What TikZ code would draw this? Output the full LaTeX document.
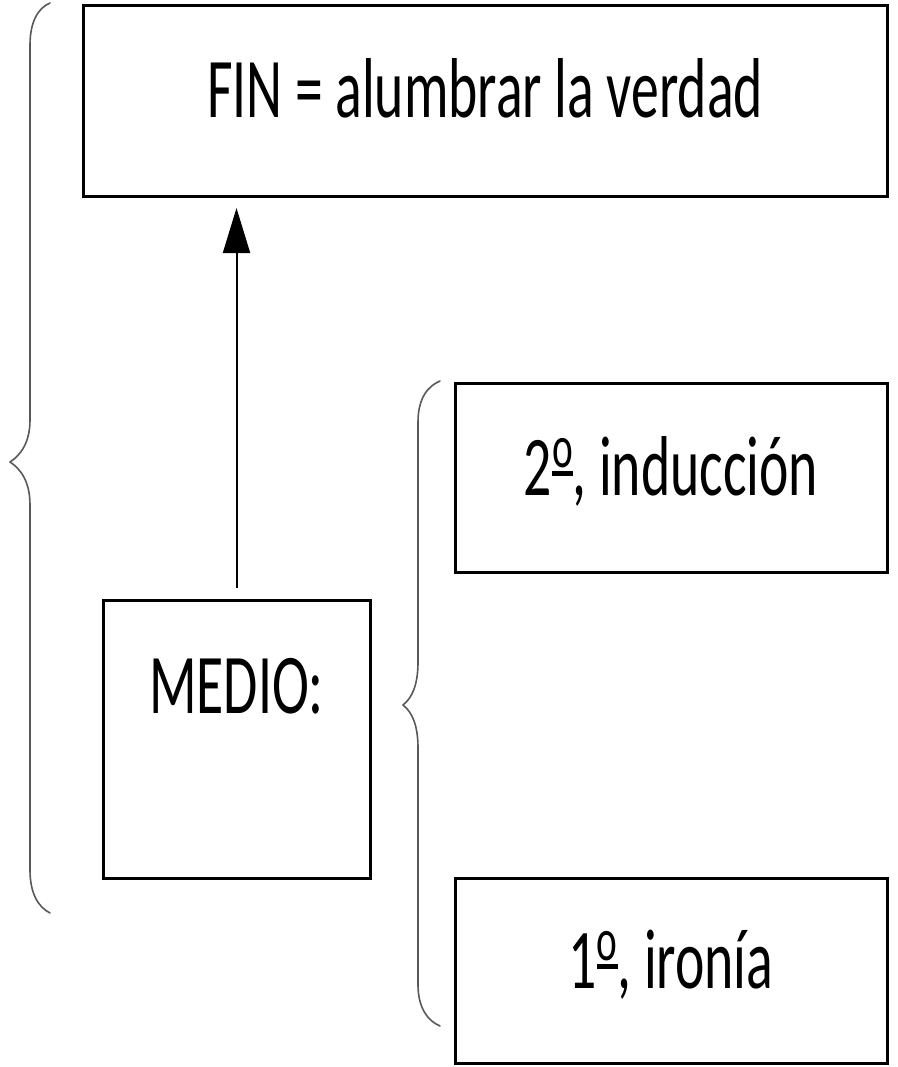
\documentclass[tikz,border=0pt]{standalone}
\usepackage{fontspec}
\setmainfont{Carlito}
\usetikzlibrary{arrows.meta}
\newcommand{\cond}[1]{\scalebox{0.655}[1]{#1}}
\newcommand{\ordm}{\raisebox{19pt}{\vbox{\hbox{\fontsize{60}{60}\selectfont o}\kern 3pt\hrule height 5pt}}}
\begin{document}
\begin{tikzpicture}[x=1pt,y=-1pt,
  box/.style={draw=black, line width=3pt, inner sep=0pt, outer sep=0pt,
    anchor=north west, align=center, font=\fontsize{85}{100}\selectfont},
  brace/.style={draw=black!65, line width=1.6pt, line cap=round, line join=round},
  conn/.style={draw=black, line width=2pt, -{Triangle[width=27pt,length=45pt]}}]
\useasboundingbox (0,0) rectangle (897,1067);
\node[box, minimum width=804pt, text height=112pt, text depth=79pt] (fin) at (83,6) {\cond{FIN = alumbrar la verdad}};
\node[box, minimum width=267pt, text height=113pt, text depth=165pt] (medio) at (103,600) {\cond{MEDIO:}};
\node[box, minimum width=432pt, text height=112pt, text depth=77pt] (ind) at (455,383) {\cond{2\ordm, inducción}};
\node[box, minimum width=432pt, text height=110pt, text depth=75pt] (iro) at (455,878) {\cond{1\ordm, ironía}};
\draw[conn, shorten <=12pt, shorten >=11pt] (medio.north) -- (medio.north |- fin.south);
% left brace
\draw[brace] (50,3) .. controls (38,8) and (30,22) .. (30,45) -- (30,420)
  .. controls (30,442) and (21,455) .. (10,462)
  .. controls (21,469) and (30,482) .. (30,505) -- (30,870)
  .. controls (30,893) and (38,907) .. (50,913);
% middle brace
\draw[brace] (440,381) .. controls (428,386) and (418,398) .. (418,422) -- (418,662)
  .. controls (418,685) and (412,698) .. (403,705)
  .. controls (412,712) and (418,725) .. (418,748) -- (418,985)
  .. controls (418,1008) and (428,1021) .. (440,1026);
\end{tikzpicture}
\end{document}
